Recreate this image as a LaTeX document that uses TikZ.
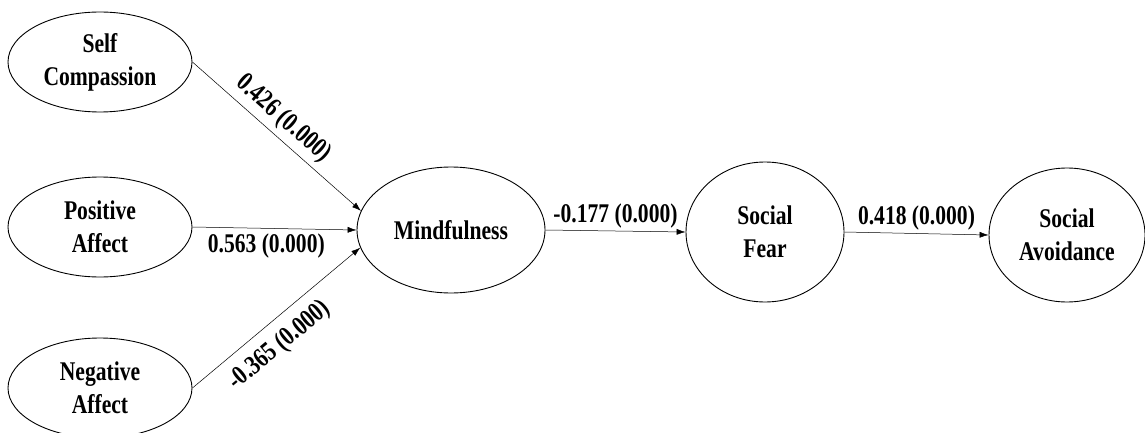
\documentclass[tikz,border=0pt]{standalone}
\usepackage{fontspec}
\setmainfont{Liberation Serif}[FakeStretch=0.8]
\usetikzlibrary{arrows.meta,shapes.geometric}

\begin{document}
\begin{tikzpicture}[x=1pt, y=-1pt, >={Latex[length=9pt,width=6pt]}, font=\fontsize{27}{33}\selectfont\bfseries,
    latente/.style={ellipse, draw, line width=0.9pt, inner sep=0pt, align=center},
    percorso/.style={->, line width=0.5pt},
    coeff/.style={font=\fontsize{27}{30}\selectfont\bfseries, inner sep=3pt}]
    \useasboundingbox (0,0) rectangle (1145,433);

    % Predittori
    \node[latente, minimum width=184pt, minimum height=100pt] (sc) at (100,62) {Self\\Compassion};
    \node[latente, minimum width=184pt, minimum height=100pt] (pa) at (100,227) {Positive\\Affect};
    \node[latente, minimum width=184pt, minimum height=100pt] (na) at (100,388) {Negative\\Affect};

    % Mediatore ed esiti
    \node[latente, minimum width=188pt, minimum height=126pt] (mind) at (451,230) {Mindfulness};
    \node[latente, minimum width=158pt, minimum height=140pt] (sf) at (765,232) {Social\\Fear};
    \node[latente, minimum width=156pt, minimum height=134pt] (sa) at (1067,235) {Social\\Avoidance};

    % Percorsi
    \draw[percorso] (sc.east) -- node[coeff, sloped, above=2pt, pos=0.47] {0.426 (0.000)} (mind.168);
    \draw[percorso] (pa.east) -- node[coeff, below=2pt, pos=0.45] {0.563 (0.000)} (mind.180);
    \draw[percorso] (na.east) -- node[coeff, sloped, below=8pt, pos=0.43] {-0.365 (0.000)} (mind.191);
    \draw[percorso] (mind.east) -- node[coeff, above] {-0.177 (0.000)} (sf.west);
    \draw[percorso] (sf.east) -- node[coeff, above] {0.418 (0.000)} (sa.west);
\end{tikzpicture}
\end{document}
